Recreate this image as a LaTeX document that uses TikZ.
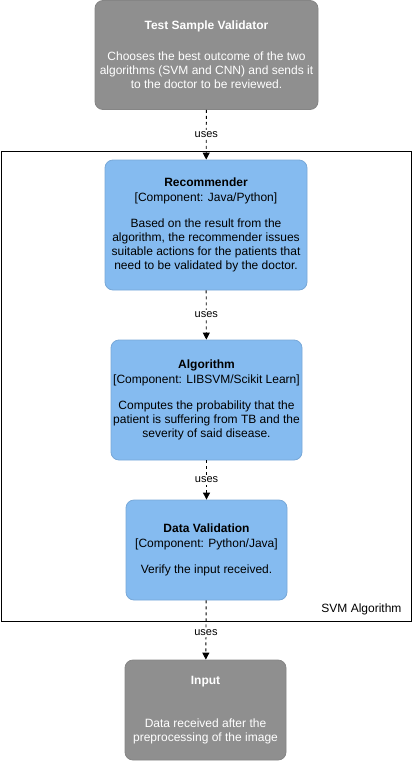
\documentclass[tikz,border=0pt]{standalone}
\usepackage{fontspec}
\setmainfont{Liberation Sans}
\usetikzlibrary{arrows.meta}
\definecolor{extfill}{HTML}{8F8F8F}
\definecolor{extline}{HTML}{858585}
\definecolor{compfill}{HTML}{85BBF0}
\definecolor{compline}{HTML}{78A8D8}
\begin{document}
\begin{tikzpicture}[x=1pt,y=-1pt,
  box/.style={rounded corners=8pt, align=center, inner sep=0pt, line width=0.8pt,
    font=\fontsize{12}{14}\selectfont},
  ext/.style={box, fill=extfill, draw=extline, text=white},
  comp/.style={box, fill=compfill, draw=compline, text=black},
  uses/.style={draw=black, line width=0.9pt, dash pattern=on 3pt off 3pt,
    -{Triangle[length=7pt,width=7pt]}},
  lbl/.style={fill=white, inner sep=1.5pt, font=\fontsize{11}{13}\selectfont, text=black},
  boundary/.style={draw=black, line width=1pt, inner sep=0pt}]
\useasboundingbox (0,0) rectangle (419,761);
\node[boundary, minimum width=410.5pt, minimum height=469.5pt] (svm) at (206.25,386.25) {};
\node[anchor=east, font=\fontsize{12}{14}\selectfont] (svmlbl) at (405,609) {SVM Algorithm};

\node[ext, minimum width=223pt, minimum height=109pt] (tsv) at (206.5,55)
  {\textbf{Test Sample Validator}\\[17pt]
   Chooses the best outcome of the two\\
   algorithms (SVM and CNN) and sends it\\
   to the doctor to be reviewed.};
\node[comp, minimum width=202pt, minimum height=130pt] (rec) at (206,225)
  {\textbf{Recommender}\\[1pt]
   {[Component: Java/Python]}\\[12pt]
   Based on the result from the\\
   algorithm, the recommender issues\\
   suitable actions for the patients that\\
   need to be validated by the doctor.};
\node[comp, minimum width=191pt, minimum height=120pt] (alg) at (206.5,400)
  {\textbf{Algorithm}\\[1pt]
   {[Component: LIBSVM/Scikit Learn]}\\[12pt]
   Computes the probability that the\\
   patient is suffering from TB and the\\
   severity of said disease.};
\node[comp, minimum width=161pt, minimum height=100pt] (dv) at (206.5,550)
  {\textbf{Data Validation}\\[1pt]
   {[Component: Python/Java]}\\[12pt]
   Verify the input received.};
\node[ext, minimum width=161pt, minimum height=100pt] (inp) at (205.5,710)
  {\textbf{Input}\\[29pt]
   Data received after the\\
   preprocessing of the image};

\draw[uses] (tsv) -- node[lbl] (u1) {uses} (rec);
\draw[uses] (rec) -- node[lbl] (u2) {uses} (alg);
\draw[uses] (alg) -- node[lbl] (u3) {uses} (dv);
\draw[uses] (dv) -- node[lbl, pos=0.55] (u4) {uses} (inp);
\end{tikzpicture}
\end{document}
